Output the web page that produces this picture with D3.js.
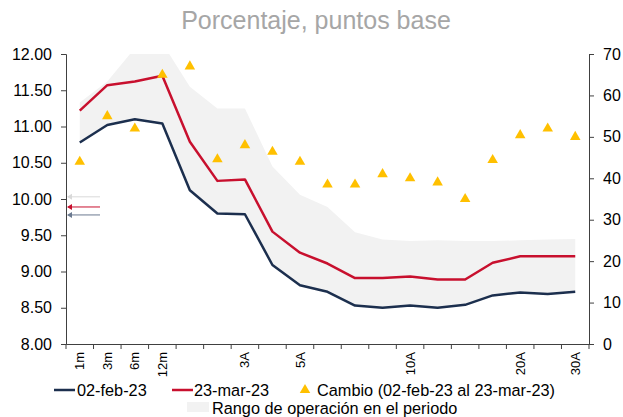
<!DOCTYPE html>
<html>
<head>
<meta charset="utf-8">
<script src="https://cdnjs.cloudflare.com/ajax/libs/d3/7.8.5/d3.min.js"></script>
<style>
  body { margin: 0; background: #fff; }
  text { font-family: "Liberation Sans", Arial, sans-serif; fill: #000; }
</style>
</head>
<body>
<div id="chart"></div>
<script>
// tenors (only some are labelled in the original)
var tenorLabels = ["1m", "3m", "6m", "12m", "", "", "3A", "", "5A", "", "", "", "10A", "", "", "", "20A", "", "30A"];

// 02-feb-23 curve (%)
var feb02 = [10.78, 11.02, 11.10, 11.04, 10.12, 9.80, 9.79, 9.09, 8.81, 8.72, 8.53, 8.50, 8.53, 8.50, 8.54, 8.67, 8.71, 8.69, 8.72];
// 23-mar-23 curve (%)
var mar23 = [11.22, 11.57, 11.62, 11.70, 10.79, 10.25, 10.27, 9.55, 9.26, 9.11, 8.91, 8.91, 8.93, 8.89, 8.89, 9.12, 9.21, 9.21, 9.21];
// change in basis points (right axis)
var cambio = [44, 55, 52, 65, 67, 44.6, 48, 46.4, 44, 38.5, 38.5, 41, 40, 39, 35, 44.4, 50.4, 52, 50];
// operating range in the period
var rangoMax = [11.33, 11.62, 12.08, 12.15, 11.55, 11.25, 11.25, 10.45, 10.06, 9.89, 9.54, 9.44, 9.42, 9.43, 9.42, 9.42, 9.43, 9.44, 9.45];
var rangoMin = [10.78, 11.02, 11.10, 11.04, 10.12, 9.80, 9.79, 9.09, 8.81, 8.72, 8.53, 8.50, 8.53, 8.50, 8.54, 8.67, 8.71, 8.69, 8.72];
// little arrows on the left axis
var arrowVals = [10.03, 9.89, 9.78];

var leftTicks = [8, 8.5, 9, 9.5, 10, 10.5, 11, 11.5, 12];
var rightTicks = [0, 10, 20, 30, 40, 50, 60, 70];

var W = 623, H = 417;
var x0 = 66, x1 = 589, yTop = 54, yBot = 344;

var navy = "#1c2f4e", red = "#c8102e", yellow = "#ffc000", band = "#f2f2f2";

var svg = d3.select("#chart").append("svg").attr("width", W).attr("height", H);

var idx = d3.range(tenorLabels.length);
var x = d3.scaleBand().domain(idx).range([x0, x1]);
var cx = function(i) { return x(i) + x.bandwidth() / 2; };
var yL = d3.scaleLinear().domain([8, 12]).range([yBot, yTop]);
var yR = d3.scaleLinear().domain([0, 70]).range([yBot, yTop]);

svg.append("defs").append("clipPath").attr("id", "plotClip")
    .append("rect").attr("x", x0).attr("y", yTop).attr("width", x1 - x0).attr("height", yBot - yTop);

//title
svg.append("text").attr("x", 316).attr("y", 29).attr("text-anchor", "middle")
    .style("font-size", "25px").style("fill", "#a6a6a6")
    .text("Porcentaje, puntos base");

//range band
var area = d3.area()
    .x(function(d, i) { return cx(i); })
    .y0(function(d, i) { return yL(rangoMin[i]); })
    .y1(function(d, i) { return yL(rangoMax[i]); });
svg.append("path").datum(idx).attr("d", area).attr("fill", band)
    .attr("clip-path", "url(#plotClip)");

//lines
function drawLine(values, color) {
    var line = d3.line().x(function(d, i) { return cx(i); }).y(function(d) { return yL(d); });
    svg.append("path").datum(values).attr("d", line)
        .attr("fill", "none").attr("stroke", color).attr("stroke-width", 2.5)
        .attr("stroke-linejoin", "round");
}
drawLine(feb02, navy);
drawLine(mar23, red);

//triangles
var tri = d3.symbol().type(d3.symbolTriangle).size(48);
svg.selectAll(".tri").data(cambio).enter().append("path")
    .attr("class", "tri")
    .attr("d", tri)
    .attr("transform", function(d, i) { return "translate(" + cx(i) + "," + yR(d) + ")"; })
    .attr("fill", yellow);

//arrows near the left axis
var arrowColors = ["#d9d9d9", red, "#6b7a90"];
arrowVals.forEach(function(v, i) {
    var yy = yL(v);
    svg.append("line").attr("x1", x0 + 2).attr("x2", 100).attr("y1", yy).attr("y2", yy)
        .attr("stroke", arrowColors[i]).attr("stroke-width", 1);
    svg.append("path").attr("d", "M" + (x0 + 1) + "," + yy + "l5,-3l0,6z").attr("fill", arrowColors[i]);
});

//axes
var axisColor = "#404040";
var gl = svg.append("g").attr("transform", "translate(" + x0 + ",0)")
    .call(d3.axisLeft(yL).tickValues(leftTicks).tickFormat(d3.format(".2f")).tickSize(5).tickPadding(9));
var gr = svg.append("g").attr("transform", "translate(" + x1 + ",0)")
    .call(d3.axisRight(yR).tickValues(rightTicks).tickSize(5).tickPadding(9));
var gb = svg.append("g").attr("transform", "translate(0," + yBot + ")")
    .call(d3.axisBottom(x).tickSize(0).tickFormat(function(d) { return tenorLabels[d]; }));

[gl, gr].forEach(function(g) {
    g.select(".domain").attr("stroke", axisColor);
    g.selectAll(".tick line").attr("stroke", axisColor);
    g.selectAll("text").style("font-size", "16px").style("font-family", "Liberation Sans, Arial, sans-serif");
});
gb.select(".domain").attr("stroke", axisColor);
gb.selectAll(".tick text")
    .style("font-size", "13px").style("font-family", "Liberation Sans, Arial, sans-serif")
    .attr("transform", "rotate(-90)")
    .attr("text-anchor", "end")
    .attr("x", -8).attr("y", 0).attr("dy", "0.35em");

//boundary ticks on bottom axis
svg.selectAll(".btick").data(d3.range(tenorLabels.length + 1)).enter().append("line")
    .attr("x1", function(d) { return x0 + d * x.step(); })
    .attr("x2", function(d) { return x0 + d * x.step(); })
    .attr("y1", yBot).attr("y2", yBot + 5)
    .attr("stroke", axisColor);

//legend
var lg = svg.append("g").style("font-size", "16.3px");
lg.append("line").attr("x1", 54).attr("x2", 75).attr("y1", 390).attr("y2", 390).attr("stroke", navy).attr("stroke-width", 2.5);
lg.append("text").attr("x", 77).attr("y", 396).text("02-feb-23");
lg.append("line").attr("x1", 172).attr("x2", 193).attr("y1", 390).attr("y2", 390).attr("stroke", red).attr("stroke-width", 2.5);
lg.append("text").attr("x", 194).attr("y", 396).text("23-mar-23");
lg.append("path").attr("d", d3.symbol().type(d3.symbolTriangle).size(48)).attr("transform", "translate(305,390)").attr("fill", yellow);
lg.append("text").attr("x", 317).attr("y", 396).text("Cambio (02-feb-23 al 23-mar-23)");
lg.append("rect").attr("x", 187).attr("y", 402).attr("width", 22).attr("height", 10).attr("fill", band);
lg.append("text").attr("x", 212).attr("y", 414).text("Rango de operación en el periodo");
</script>
</body>
</html>
